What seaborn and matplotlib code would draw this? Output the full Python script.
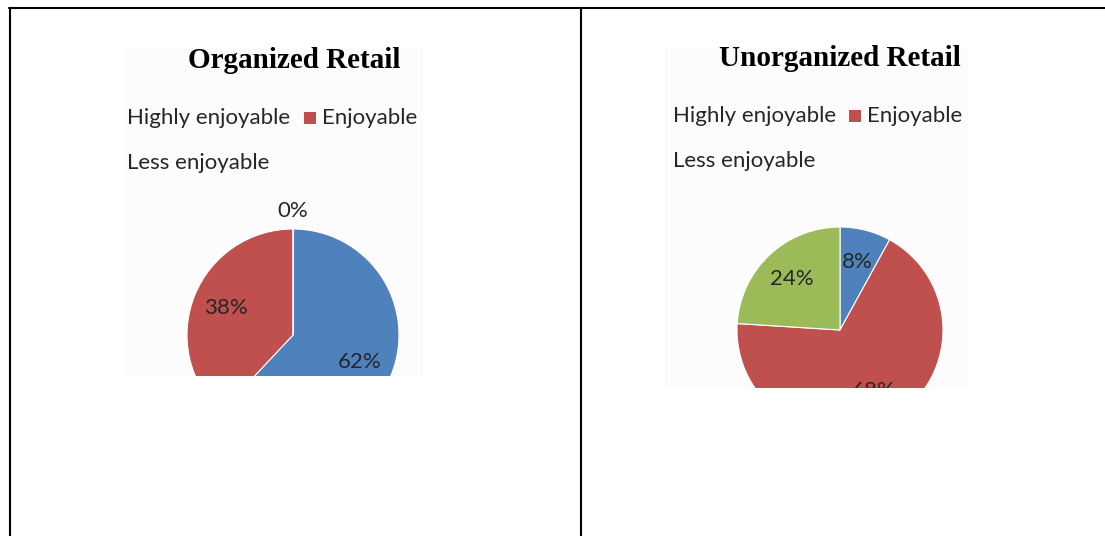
import numpy as np
import matplotlib
matplotlib.use("Agg")
import matplotlib.pyplot as plt
from matplotlib.patches import Rectangle
from matplotlib.lines import Line2D
import seaborn as sns

# ---- data ----
categories = ["Highly enjoyable", "Enjoyable", "Less enjoyable"]
titles = ["Organized Retail", "Unorganized Retail"]
organized = [62, 38, 0]
unorganized = [8, 68, 24]
series = [organized, unorganized]

sns.set_theme(style="white")
colors = ["#4F81BD", "#C0504D", "#9BBB59"]
plt.rcParams['font.family'] = ['Lato', 'DejaVu Sans']

W, H = 1105, 536
fig = plt.figure(figsize=(W / 100, H / 100), dpi=100)
fig.patch.set_facecolor("white")

def fx(x): return x / W
def fy(y): return 1 - y / H
lw = 1.5
fig.add_artist(Line2D([fx(9), fx(1105)], [fy(8), fy(8)], color="black", lw=lw))
fig.add_artist(Line2D([fx(10), fx(10)], [fy(8), fy(536)], color="black", lw=lw))
fig.add_artist(Line2D([fx(581), fx(581)], [fy(8), fy(536)], color="black", lw=lw))

panels = [
    dict(box=(125, 48, 423, 376), center=(293, 335), r=106, title=(294, 61),
         leg1=(127, 118), sq=(304, 112), leg2=(322, 118), leg3=(127, 163)),
    dict(box=(665, 48, 968, 388), center=(840, 330), r=103, title=(840, 59),
         leg1=(673, 116), sq=(849, 110), leg2=(867, 116), leg3=(673, 161)),
]
txtc = "#262626"
fs = 16

for vals, ttl, p in zip(series, titles, panels):
    x0, y0, x1, y1 = p["box"]
    ax = fig.add_axes([fx(x0), fy(y1), (x1 - x0) / W, (y1 - y0) / H])
    ax.set_facecolor("#fcfcfc")
    cx, cy = p["center"]
    wedges, _ = ax.pie(vals, colors=colors, startangle=90, counterclock=False,
                       center=(cx, H - cy), radius=p["r"], frame=True,
                       wedgeprops=dict(edgecolor="white", linewidth=0.8))
    ax.set_aspect("auto")
    ax.set_xlim(x0, x1)
    ax.set_ylim(H - y1, H - y0)
    ax.set_xticks([]); ax.set_yticks([])
    for s in ax.spines.values():
        s.set_visible(False)
    for w in wedges:
        w.set_clip_on(True)
        w.set_clip_path(ax.patch)
    for w, v in zip(wedges, vals):
        mid = np.deg2rad((w.theta1 + w.theta2) / 2)
        d = 0.68 * p["r"] if v > 0 else 1.17 * p["r"]
        t = ax.text(cx + d * np.cos(mid), H - cy + d * np.sin(mid), f"{v}%",
                    ha="center", va="center", fontsize=fs, color=txtc)
        t.set_clip_on(True)
    tx, ty = p["title"]
    ax.text(tx, H - ty, ttl, ha="center", va="center", fontsize=21,
            fontweight="bold", family=["Liberation Serif"], color="black")
    lx, ly = p["leg1"]
    ax.text(lx, H - ly, categories[0], ha="left", va="center", fontsize=fs, color=txtc)
    sx, sy = p["sq"]
    ax.add_patch(Rectangle((sx, H - sy - 12), 12, 12, facecolor=colors[1], edgecolor="none"))
    lx, ly = p["leg2"]
    ax.text(lx, H - ly, categories[1], ha="left", va="center", fontsize=fs, color=txtc)
    lx, ly = p["leg3"]
    ax.text(lx, H - ly, categories[2], ha="left", va="center", fontsize=fs, color=txtc)

fig.savefig("out.png", dpi=100)
